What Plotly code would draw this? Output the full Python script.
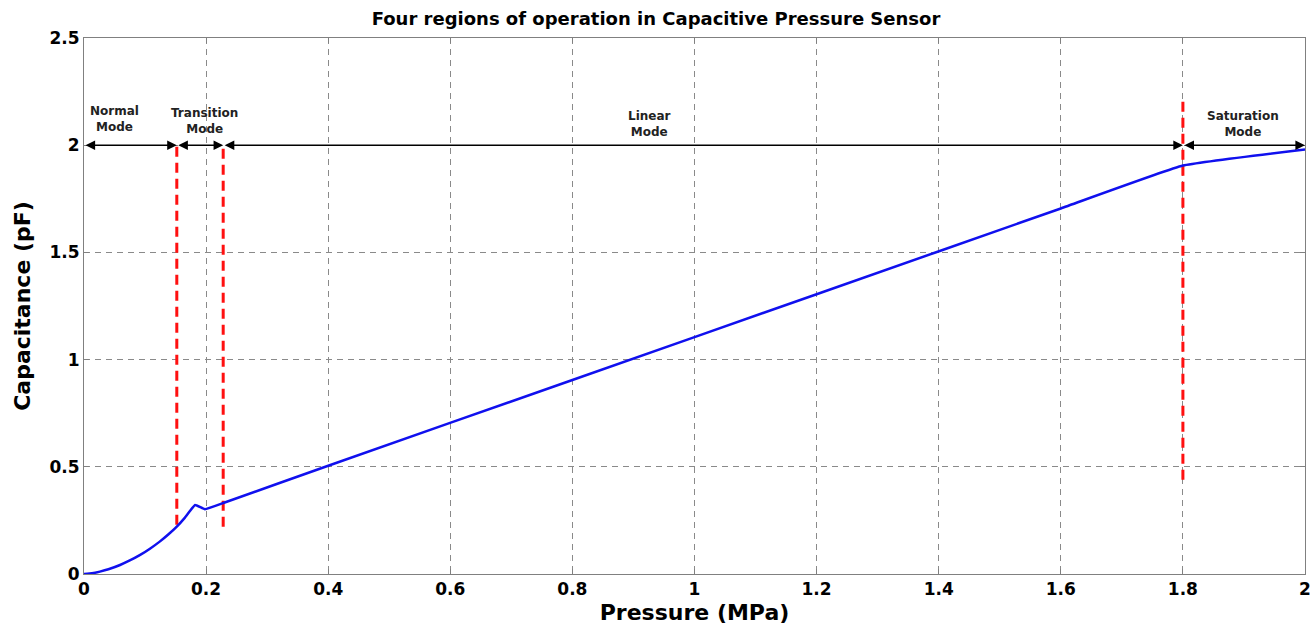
import plotly.graph_objects as go

# Curve data (Pressure MPa, Capacitance pF)
pressure = [0.0, 0.013, 0.026, 0.04, 0.059, 0.075, 0.092, 0.108, 0.124, 0.138, 0.152, 0.165, 0.182, 0.198, 0.227, 0.4, 0.8, 1.2, 1.6, 1.8, 2.0]
capacitance = [0.0, 0.003, 0.011, 0.022, 0.042, 0.063, 0.089, 0.118, 0.151, 0.184, 0.221, 0.262, 0.322, 0.302, 0.33, 0.505, 0.905, 1.305, 1.705, 1.905, 1.98]

# Region boundaries
boundaries = [0.0, 0.152, 0.228, 1.8, 2.0]
red_lines_x = [0.152, 0.228, 1.8]
red_lines_bottom = [0.23, 0.22, 0.44]
red_lines_top = [2.0, 2.0, 2.23]
arrow_y = 2.0

mode_labels = ["Normal<br>Mode", "Transition<br>Mode", "Linear<br>Mode", "Saturation<br>Mode"]
label_x = [0.05, 0.197, 0.927, 1.898]
label_y = [2.12, 2.115, 2.1, 2.1]

x_ticks = [0, 0.2, 0.4, 0.6, 0.8, 1, 1.2, 1.4, 1.6, 1.8, 2]
y_ticks = [0, 0.5, 1, 1.5, 2, 2.5]

FONT = "DejaVu Sans, Liberation Sans, Arial, sans-serif"

fig = go.Figure()

for xv, yb, yt in zip(red_lines_x, red_lines_bottom, red_lines_top):
    fig.add_trace(go.Scatter(x=[xv, xv], y=[yb, yt], mode="lines",
                             line=dict(color="#ff1010", width=3, dash="10px,6px"),
                             showlegend=False, hoverinfo="skip"))

fig.add_trace(go.Scatter(x=pressure, y=capacitance, mode="lines",
                         line=dict(color="#1010ee", width=2.5, shape="spline", smoothing=0.3),
                         showlegend=False))

for a, b in zip(boundaries[:-1], boundaries[1:]):
    fig.add_annotation(x=b, y=arrow_y, ax=a, ay=arrow_y, xref="x", yref="y",
                       axref="x", ayref="y", text="", showarrow=True,
                       arrowhead=2, startarrowhead=2, arrowside="end+start",
                       arrowsize=1.2, startarrowsize=1.2, arrowwidth=1.6, arrowcolor="black")

for t, lx, ly in zip(mode_labels, label_x, label_y):
    fig.add_annotation(x=lx, y=ly, xref="x", yref="y", text="<b>" + t + "</b>",
                       showarrow=False, font=dict(size=12, color="#222", family=FONT))

fig.update_layout(
    width=1312, height=630,
    margin=dict(l=84, r=7, t=38, b=56),
    paper_bgcolor="white", plot_bgcolor="white",
    font=dict(family=FONT, color="black"),
    title=dict(text="<b>Four regions of operation in Capacitive Pressure Sensor</b>",
               x=0.5, xanchor="center", y=0.97, yanchor="middle", font=dict(size=18)),
)

axis_common = dict(showgrid=True, gridcolor="#8a8a8a", griddash="6px,5px", gridwidth=1,
                   showline=True, linecolor="#808080", linewidth=1, mirror="ticks",
                   ticks="inside", ticklen=5, tickcolor="#808080", zeroline=False,
                   automargin=False,
                   tickfont=dict(size=17, family=FONT, color="black"))

fig.update_xaxes(range=[0, 2], tickvals=x_ticks, ticktext=["<b>%g</b>" % v for v in x_ticks],
                 title=dict(text="<b>Pressure (MPa)</b>", font=dict(size=22), standoff=6),
                 **axis_common)
fig.update_yaxes(range=[0, 2.5], tickvals=y_ticks, ticktext=["<b>%g</b>" % v for v in y_ticks],
                 title=dict(text="<b>Capacitance (pF)</b>", font=dict(size=22), standoff=12),
                 **axis_common)

fig.write_html("out.html")
